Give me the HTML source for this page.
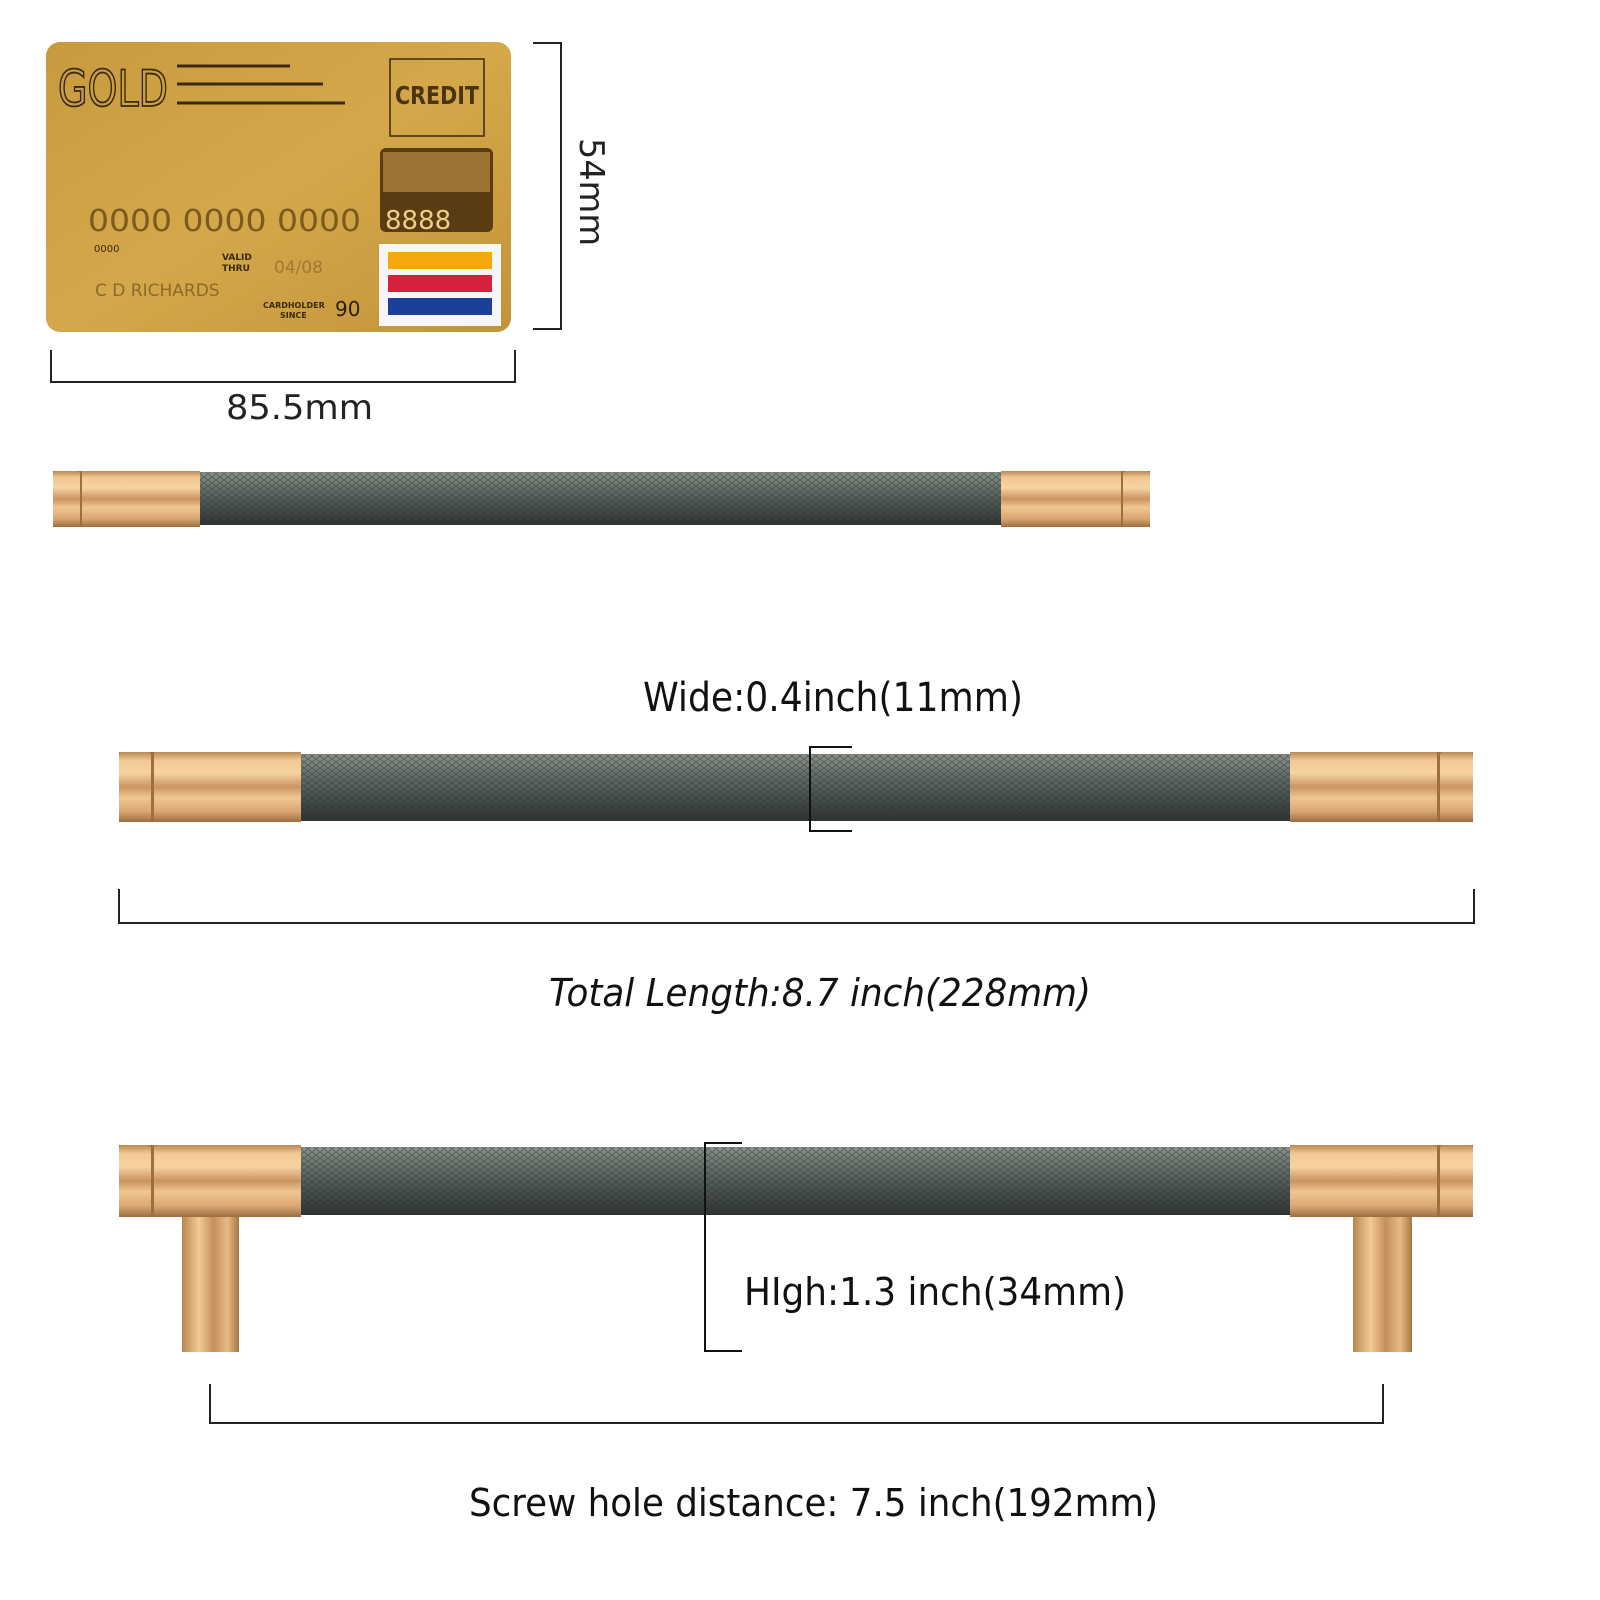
<!DOCTYPE html>
<html><head><meta charset="utf-8"><style>
html,body{margin:0;padding:0;background:#fff;}
svg{display:block}
text{font-family:"DejaVu Sans","Liberation Sans",sans-serif;}
</style></head><body>
<svg width="1600" height="1600" viewBox="0 0 1600 1600" xmlns="http://www.w3.org/2000/svg">
<defs>
<linearGradient id="gold" x1="0" y1="0" x2="0" y2="1">
<stop offset="0" stop-color="#b98a55"/><stop offset="0.12" stop-color="#f2c893"/><stop offset="0.3" stop-color="#f6d3a2"/>
<stop offset="0.5" stop-color="#c99462"/><stop offset="0.65" stop-color="#f0c690"/><stop offset="0.85" stop-color="#d9a672"/><stop offset="1" stop-color="#9c6e40"/>
</linearGradient>
<linearGradient id="goldv" x1="0" y1="0" x2="1" y2="0">
<stop offset="0" stop-color="#b88750"/><stop offset="0.3" stop-color="#f3cb95"/><stop offset="0.55" stop-color="#c38f5b"/><stop offset="0.8" stop-color="#e8b983"/><stop offset="1" stop-color="#a77645"/>
</linearGradient>
<linearGradient id="knurl" x1="0" y1="0" x2="0" y2="1">
<stop offset="0" stop-color="#8a918b"/><stop offset="0.3" stop-color="#66706a"/><stop offset="0.6" stop-color="#4c5550"/><stop offset="1" stop-color="#2f3532"/>
</linearGradient>
<pattern id="kp" width="8" height="6" patternUnits="userSpaceOnUse">
<path d="M0 0L8 6M8 0L0 6" stroke="#2a2f2c" stroke-width="0.8" opacity="0.5"/>
</pattern>
<linearGradient id="card" x1="0" y1="0" x2="1" y2="1">
<stop offset="0" stop-color="#c89a3f"/><stop offset="0.5" stop-color="#d4a84a"/><stop offset="1" stop-color="#c39338"/>
</linearGradient>
</defs>

<!-- card -->
<rect x="46" y="42" width="465" height="290" rx="14" fill="url(#card)"/>
<text x="58" y="106" font-size="50" fill="none" stroke="#3a2a10" stroke-width="1.8" font-family="Liberation Sans" textLength="110" lengthAdjust="spacingAndGlyphs">GOLD</text>
<line x1="177" y1="66" x2="290" y2="66" stroke="#3a2a10" stroke-width="3"/>
<line x1="177" y1="84" x2="323" y2="84" stroke="#3a2a10" stroke-width="3"/>
<line x1="177" y1="103" x2="345" y2="103" stroke="#3a2a10" stroke-width="3"/>
<rect x="390" y="59" width="94" height="77" fill="none" stroke="#3a2a10" stroke-width="1.5"/>
<text x="395" y="104" font-size="25" fill="#4a3512" font-family="Liberation Sans" font-weight="bold" textLength="84" lengthAdjust="spacingAndGlyphs">CREDIT</text>
<rect x="380" y="148" width="113" height="84" rx="6" fill="#5a3c12"/>
<rect x="383" y="152" width="107" height="40" fill="#c69a4a" opacity="0.6"/>
<text x="385" y="229" font-size="26" fill="#e9cf8a" font-family="Liberation Mono">8888</text>
<text x="88" y="231" font-size="30" fill="#7a5a1e" font-family="Liberation Mono" textLength="273" lengthAdjust="spacingAndGlyphs">0000 0000 0000</text>
<text x="94" y="252" font-size="10" fill="#3a2a10">0000</text>
<text x="222" y="260" font-size="9" fill="#3a2a10" font-weight="bold">VALID</text>
<text x="222" y="271" font-size="9" fill="#3a2a10" font-weight="bold">THRU</text>
<text x="274" y="273" font-size="17" fill="#a07a35" font-family="Liberation Mono">04/08</text>
<text x="95" y="296" font-size="17" fill="#8a6a2a" font-family="Liberation Mono">C D RICHARDS</text>
<text x="263" y="308" font-size="8" fill="#3a2a10" font-weight="bold">CARDHOLDER</text>
<text x="280" y="318" font-size="8" fill="#3a2a10" font-weight="bold">SINCE</text>
<text x="335" y="316" font-size="20" fill="#2a1e08">90</text>
<rect x="379" y="244" width="122" height="82" fill="#f6f6f6"/>
<rect x="388" y="252" width="104" height="17" fill="#f5a70c"/>
<rect x="388" y="275" width="104" height="17" fill="#d6203c"/>
<rect x="388" y="298" width="104" height="17" fill="#1c3f9a"/>

<!-- card dims -->
<path d="M533 43H561V329H533" fill="none" stroke="#222" stroke-width="2"/>
<text transform="translate(580,192) rotate(90)" text-anchor="middle" font-size="34" fill="#222" textLength="108" lengthAdjust="spacingAndGlyphs">54mm</text>
<path d="M51 350V382H515V350" fill="none" stroke="#222" stroke-width="2"/>
<text x="226" y="419" font-size="34" fill="#222" textLength="147" lengthAdjust="spacingAndGlyphs">85.5mm</text>

<!-- bar1 -->
<rect x="200" y="472" width="801" height="53" fill="url(#knurl)"/>
<rect x="200" y="472" width="801" height="53" fill="url(#kp)"/>
<rect x="53" y="471" width="97" height="56" fill="#9c6e40"/>
<rect x="53" y="471" width="27" height="56" rx="3" fill="url(#gold)"/>
<rect x="82" y="471" width="118" height="56" fill="url(#gold)"/>
<rect x="1080" y="471" width="70" height="56" fill="#9c6e40"/>
<rect x="1001" y="471" width="120" height="56" fill="url(#gold)"/>
<rect x="1123" y="471" width="27" height="56" rx="3" fill="url(#gold)"/>

<!-- bar2 -->
<text x="643" y="711" font-size="40" fill="#111" textLength="380" lengthAdjust="spacingAndGlyphs">Wide:0.4inch(11mm)</text>
<rect x="301" y="754" width="989" height="67" fill="url(#knurl)"/>
<rect x="301" y="754" width="989" height="67" fill="url(#kp)"/>
<rect x="119" y="752" width="60" height="70" fill="#9c6e40"/>
<rect x="119" y="752" width="32" height="70" rx="3" fill="url(#gold)"/>
<rect x="154" y="752" width="147" height="70" fill="url(#gold)"/>
<rect x="1420" y="752" width="53" height="70" fill="#9c6e40"/>
<rect x="1290" y="752" width="147" height="70" fill="url(#gold)"/>
<rect x="1440" y="752" width="33" height="70" rx="3" fill="url(#gold)"/>
<path d="M852 747H810V831H852" fill="none" stroke="#111" stroke-width="2"/>
<path d="M119 889V923H1474V889" fill="none" stroke="#222" stroke-width="2"/>
<text x="549" y="1006" font-size="38" font-style="italic" fill="#111" textLength="542" lengthAdjust="spacingAndGlyphs">Total Length:8.7 inch(228mm)</text>

<!-- bar3 -->
<rect x="182" y="1200" width="57" height="152" fill="url(#goldv)"/>
<rect x="1353" y="1200" width="59" height="152" fill="url(#goldv)"/>
<rect x="301" y="1147" width="989" height="68" fill="url(#knurl)"/>
<rect x="301" y="1147" width="989" height="68" fill="url(#kp)"/>
<rect x="119" y="1145" width="60" height="72" fill="#9c6e40"/>
<rect x="119" y="1145" width="32" height="72" rx="3" fill="url(#gold)"/>
<rect x="154" y="1145" width="147" height="72" fill="url(#gold)"/>
<rect x="1420" y="1145" width="53" height="72" fill="#9c6e40"/>
<rect x="1290" y="1145" width="147" height="72" fill="url(#gold)"/>
<rect x="1440" y="1145" width="33" height="72" rx="3" fill="url(#gold)"/>
<path d="M742 1143H705V1351H742" fill="none" stroke="#111" stroke-width="2"/>
<text x="744" y="1305" font-size="38" fill="#111" textLength="382" lengthAdjust="spacingAndGlyphs">HIgh:1.3 inch(34mm)</text>
<path d="M210 1384V1423H1383V1384" fill="none" stroke="#222" stroke-width="2"/>
<text x="469" y="1516" font-size="38" fill="#111" textLength="689" lengthAdjust="spacingAndGlyphs">Screw hole distance: 7.5 inch(192mm)</text>
</svg>
</body></html>
